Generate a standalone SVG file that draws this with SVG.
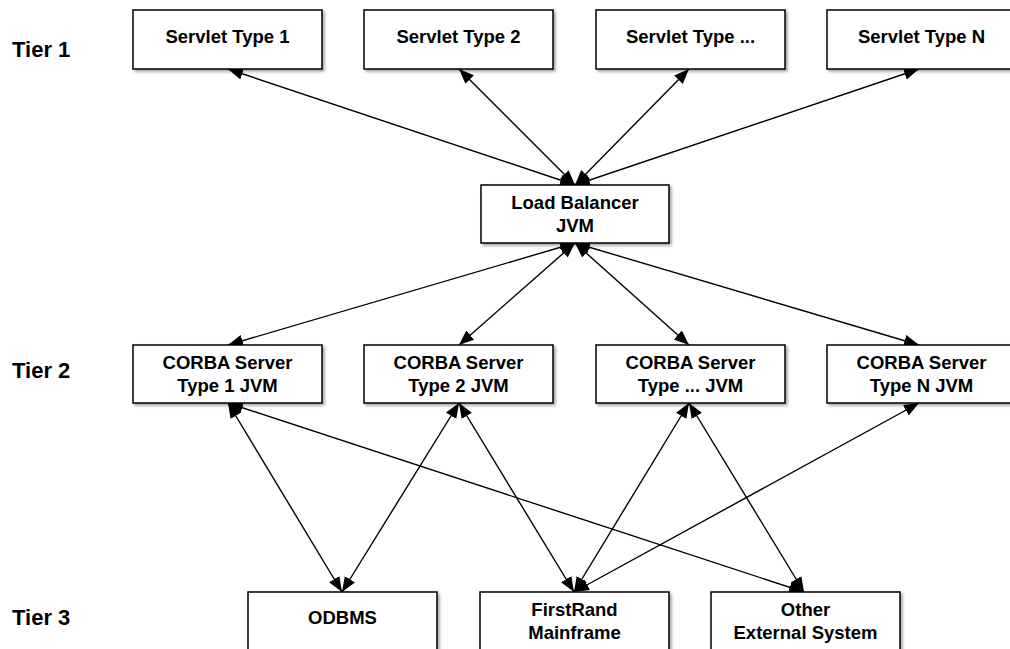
<svg xmlns="http://www.w3.org/2000/svg" width="1010" height="649" viewBox="0 0 1010 649">
<style>
.box{fill:#fff;stroke:#000;stroke-width:1.5;filter:url(#sh)}
.t{font-family:"Liberation Sans",Arial,Helvetica,sans-serif;font-weight:bold;font-size:18.5px;text-anchor:middle;fill:#000}
.tier{font-family:"Liberation Sans",Arial,Helvetica,sans-serif;font-weight:bold;font-size:22px;fill:#000}
.c line{stroke:#000;stroke-width:1.4;marker-start:url(#ah);marker-end:url(#ah)}
</style>
<defs>
<filter id="sh" x="-10%" y="-10%" width="130%" height="140%">
<feDropShadow dx="2" dy="2" stdDeviation="1.5" flood-color="#000" flood-opacity="0.35"/>
</filter>
<marker id="ah" markerUnits="userSpaceOnUse" markerWidth="16" markerHeight="14" refX="15" refY="6" orient="auto-start-reverse">
<path d="M0,0 L15,6 L0,12 Z" fill="#000"/>
</marker>
</defs>
<g id="tiers">
<text class="tier" x="12" y="57">Tier 1</text>
<text class="tier" x="12" y="378">Tier 2</text>
<text class="tier" x="12" y="625">Tier 3</text>
</g>
<g id="connectors" class="c">
<line x1="575" y1="185" x2="228" y2="69"/>
<line x1="575" y1="185" x2="459" y2="69"/>
<line x1="575" y1="185" x2="689" y2="69"/>
<line x1="575" y1="185" x2="919" y2="69"/>
<line x1="575" y1="243" x2="228" y2="345"/>
<line x1="575" y1="243" x2="459" y2="345"/>
<line x1="575" y1="243" x2="689" y2="345"/>
<line x1="575" y1="243" x2="919" y2="345"/>
<line x1="228" y1="403" x2="342" y2="592"/>
<line x1="228" y1="403" x2="804" y2="592"/>
<line x1="459" y1="403" x2="342" y2="592"/>
<line x1="459" y1="403" x2="574" y2="592"/>
<line x1="689" y1="403" x2="574" y2="592"/>
<line x1="689" y1="403" x2="804" y2="592"/>
<line x1="919" y1="403" x2="574" y2="592"/>
</g>
<g id="servlet1"><rect class="box" x="133" y="10" width="189" height="59"/><text class="t" x="227.5" y="43">Servlet Type 1</text></g>
<g id="servlet2"><rect class="box" x="364" y="10" width="189" height="59"/><text class="t" x="458.5" y="43">Servlet Type 2</text></g>
<g id="servlet3"><rect class="box" x="596" y="10" width="189" height="59"/><text class="t" x="690.5" y="43">Servlet Type ...</text></g>
<g id="servletN"><rect class="box" x="827" y="10" width="189" height="59"/><text class="t" x="921.5" y="43">Servlet Type N</text></g>
<g id="loadbalancer"><rect class="box" x="481" y="185" width="188" height="58"/><text class="t" x="575" y="209">Load Balancer</text><text class="t" x="575" y="232">JVM</text></g>
<g id="corba1"><rect class="box" x="133" y="345" width="189" height="58"/><text class="t" x="227.5" y="369">CORBA Server</text><text class="t" x="227.5" y="392">Type 1 JVM</text></g>
<g id="corba2"><rect class="box" x="364" y="345" width="189" height="58"/><text class="t" x="458.5" y="369">CORBA Server</text><text class="t" x="458.5" y="392">Type 2 JVM</text></g>
<g id="corba3"><rect class="box" x="596" y="345" width="189" height="58"/><text class="t" x="690.5" y="369">CORBA Server</text><text class="t" x="690.5" y="392">Type ... JVM</text></g>
<g id="corbaN"><rect class="box" x="827" y="345" width="189" height="58"/><text class="t" x="921.5" y="369">CORBA Server</text><text class="t" x="921.5" y="392">Type N JVM</text></g>
<g id="odbms"><rect class="box" x="248" y="592" width="189" height="70"/><text class="t" x="342.5" y="624">ODBMS</text></g>
<g id="firstrand"><rect class="box" x="480" y="592" width="189" height="70"/><text class="t" x="574.5" y="616">FirstRand</text><text class="t" x="574.5" y="639">Mainframe</text></g>
<g id="other"><rect class="box" x="711" y="592" width="189" height="70"/><text class="t" x="805.5" y="616">Other</text><text class="t" x="805.5" y="639">External System</text></g>
</svg>
